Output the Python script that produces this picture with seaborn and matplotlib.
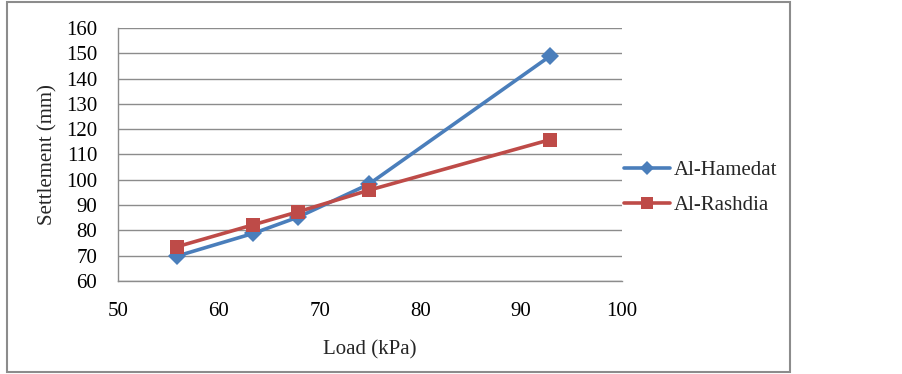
import matplotlib
matplotlib.use("Agg")
import matplotlib.pyplot as plt
import seaborn as sns
import pandas as pd
from matplotlib.patches import Rectangle

load_kpa = [55.9, 63.4, 67.9, 74.9, 92.9]
hamedat = [69.9, 78.8, 85.3, 98.3, 149.0]
rashdia = [73.6, 82.2, 87.4, 95.9, 115.9]
series_names = ["Al-Hamedat", "Al-Rashdia"]
x_ticks = [50, 60, 70, 80, 90, 100]
y_ticks = [60, 70, 80, 90, 100, 110, 120, 130, 140, 150, 160]

df = pd.DataFrame({
    "Load": load_kpa * 2,
    "Settlement": hamedat + rashdia,
    "Site": [series_names[0]] * len(load_kpa) + [series_names[1]] * len(load_kpa),
})

sns.set_theme(style="white")
plt.rcParams["font.family"] = ["Liberation Serif", "DejaVu Serif"]

fig = plt.figure(figsize=(9.03, 3.74), dpi=100)
ax = fig.add_axes([118 / 903, 1 - 281 / 374, (622 - 118) / 903, (281 - 28) / 374])

palette = {series_names[0]: "#4A7EBB", series_names[1]: "#BE4B48"}
markers = {series_names[0]: "D", series_names[1]: "s"}
sns.lineplot(data=df, x="Load", y="Settlement", hue="Site", style="Site",
             palette=palette, markers=markers, dashes=False, linewidth=2.6,
             markersize=9.5, markeredgewidth=0, ax=ax, sort=False)

ax.set_xlim(50, 100)
ax.set_ylim(60, 160)
ax.set_xticks(x_ticks)
ax.set_yticks(y_ticks)
ax.tick_params(axis="both", labelsize=15, length=0, colors="black")
ax.tick_params(axis="x", pad=15)
ax.tick_params(axis="y", pad=15)
ax.yaxis.grid(True, color="#8C8C8C", linewidth=1.0)
ax.xaxis.grid(False)
for side in ["top", "right"]:
    ax.spines[side].set_visible(False)
for side in ["left", "bottom"]:
    ax.spines[side].set_color("#8C8C8C")
    ax.spines[side].set_linewidth(1.0)

ax.set_xlabel("Load (kPa)", fontsize=15, labelpad=14)
ax.set_ylabel("Settlement (mm)", fontsize=15, labelpad=6)

handles, labels = ax.get_legend_handles_labels()
handles[0].set_markersize(7)
handles[1].set_markersize(8)
leg = ax.legend(handles, labels, loc="center left", bbox_to_anchor=(624 / 903, 1 - 188 / 374),
                bbox_transform=fig.transFigure, frameon=False, fontsize=15,
                handlelength=2.2, handletextpad=0.2, labelspacing=0.75, borderpad=0, borderaxespad=0)

fig.patches.append(Rectangle((7 / 903, 1 - 372 / 374), (790 - 7) / 903, (372 - 2) / 374,
                             transform=fig.transFigure, fill=False, edgecolor="#8C8C8C",
                             linewidth=1.5))

fig.savefig("out.png", dpi=100)
